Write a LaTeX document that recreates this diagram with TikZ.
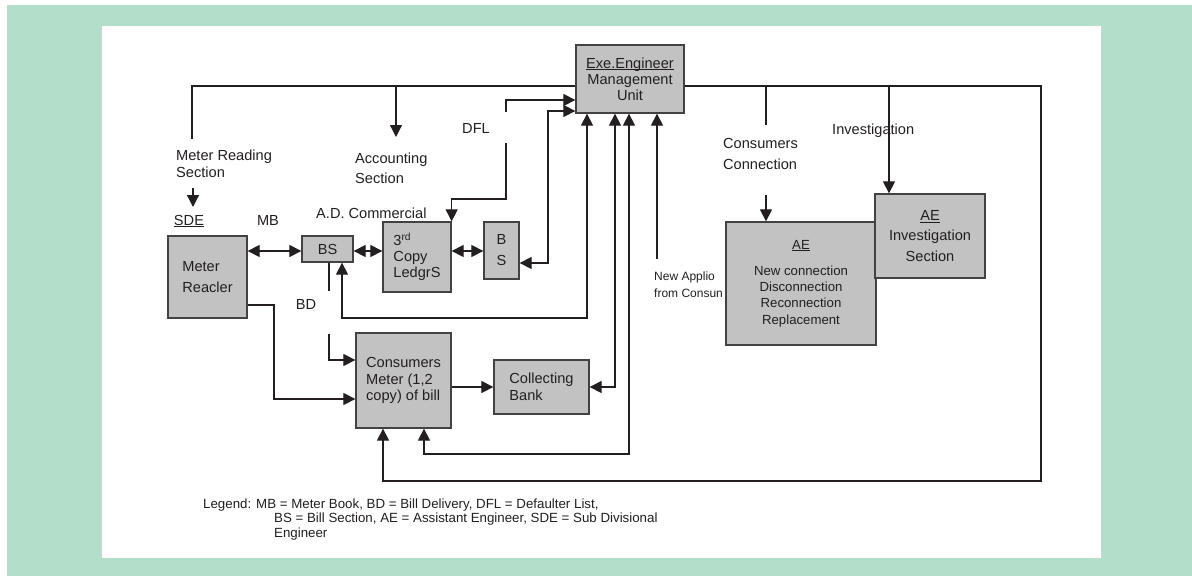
\documentclass[tikz,border=0pt]{standalone}
\usepackage{fontspec}
\setmainfont{Liberation Sans}
\usetikzlibrary{arrows.meta}
\definecolor{panelgreen}{RGB}{179,222,201}
\definecolor{boxgray}{RGB}{194,194,194}
\definecolor{ink}{RGB}{35,31,32}
% underline that ignores descenders but keeps the line height
\newcommand{\ulx}[1]{\underline{\raisebox{0pt}[\height][0pt]{#1}}}

\begin{document}
\begin{tikzpicture}[x=1pt,y=-1pt,
  >={Triangle[length=12pt,width=12pt]},
  box/.style={draw=ink!85, fill=boxgray, line width=1.3pt, inner sep=0pt,
    text=ink, font=\fontsize{14.6}{16}\selectfont},
  lbl/.style={text=ink, inner sep=0pt, font=\fontsize{14.6}{17}\selectfont},
  conn/.style={draw=ink, line width=1.2pt}]

% page, green frame and white panel
\useasboundingbox (0,0) rectangle (1192,576);
\fill[white] (0,0) rectangle (1192,576);
\fill[panelgreen] (7,5) rectangle (1192,576);
\fill[white] (102,26) rectangle (1101,558);

% boxes
\node[box, minimum width=108pt, minimum height=68pt, align=center] (exe) at (630,79)
  {\ulx{Exe.Engineer}\\Management\\Unit};
\node[box, minimum width=79pt, minimum height=82pt, align=left,
  font=\fontsize{14.6}{21}\selectfont] (meter) at (207.5,277) {Meter\\Reacler};
\node[box, minimum width=51pt, minimum height=26pt] (bs1) at (327.5,249) {BS};
\node[box, minimum width=68pt, minimum height=70pt, align=left] (ledger) at (417,257)
  {3\textsuperscript{rd}\\Copy\\LedgrS};
\node[box, minimum width=35pt, minimum height=57pt, align=center,
  font=\fontsize{14.6}{21}\selectfont] (bs2) at (501.5,250.5) {B\\S};
\node[box, minimum width=95pt, minimum height=95pt, align=left,
  font=\fontsize{14.6}{16.5}\selectfont] (cons) at (403.5,380.5)
  {Consumers\\Meter (1,2\\copy) of bill};
\node[box, minimum width=95pt, minimum height=54pt, align=left,
  font=\fontsize{14.6}{17}\selectfont] (bank) at (541.5,387) {Collecting\\Bank};
\node[box, minimum width=150pt, minimum height=123pt, align=center,
  font=\fontsize{13.2}{16.3}\selectfont] (ae) at (801,283.5)
  {\ulx{AE}\\[10pt]New connection\\Disconnection\\Reconnection\\Replacement};
\node[box, minimum width=110pt, minimum height=84pt, align=center,
  font=\fontsize{14.6}{20.5}\selectfont] (aeinv) at (930,236)
  {\ulx{AE}\\Investigation\\Section};

% free ends of connectors
\coordinate (mrTop) at (192,139);
\coordinate (accJ) at (396,86);
\coordinate (accTip) at (396,137);
\coordinate (sdeA) at (193,188);
\coordinate (sdeB) at (193,207);
\coordinate (ccJ) at (766,86);
\coordinate (ccEnd) at (766,125);
\coordinate (ccStart) at (766,195);
\coordinate (invJ) at (889,86);
\coordinate (napp) at (657,259);
\coordinate (dflA) at (506,112);
\coordinate (dflB) at (506,143);
\coordinate (bdA) at (329,291);
\coordinate (bdB) at (329,334);

% connectors
\draw[conn] (exe.west |- 0,86) -- (192,86) -- (mrTop);
\draw[conn,->] (accJ) -- (accTip);
\draw[conn,->] (sdeA) -- (sdeB);
\draw[conn,->] (exe.east |- 0,86) -- (1041,86) -- (1041,481) -- (383,481) -- (cons.south -| 383,0);
\draw[conn] (ccJ) -- (ccEnd);
\draw[conn,->] (ccStart) -- (ae.north -| ccStart);
\draw[conn,->] (invJ) -- (aeinv.north -| invJ);
\draw[conn,->] (napp) -- (exe.south -| napp);
\draw[conn,<->] (meter.east |- 0,251) -- (bs1.west |- 0,251);
\draw[conn,<->] (bs1.east |- 0,251) -- (ledger.west |- 0,251);
\draw[conn,<->] (ledger.east |- 0,251) -- (bs2.west |- 0,251);
\draw[conn,->] (dflA) -- (506,100) -- (exe.west |- 0,100);
\draw[conn,->] (dflB) -- (506,199) -- (ledger.north east |- 0,199) -- (ledger.north east);
\draw[conn,<->] (exe.west |- 0,111) -- (548,111) -- (548,263) -- (bs2.east |- 0,263);
\draw[conn,<->] (exe.south -| 587,0) -- (587,318) -- (342,318) -- (bs1.south -| 342,0);
\draw[conn,<->] (exe.south -| 615,0) -- (615,387) -- (bank.east |- 0,387);
\draw[conn,<->] (exe.south -| 629,0) -- (629,454) -- (424,454) -- (cons.south -| 424,0);
\draw[conn,->] (cons.east |- bank.west) -- (bank.west);
\draw[conn] (bs1.south -| bdA) -- (bdA);
\draw[conn,->] (bdB) -- (329,360) -- (cons.west |- 0,360);
\draw[conn,->] (meter.east |- 0,305) -- (274,305) -- (274,399) -- (cons.west |- 0,399);

% labels
\node[lbl, align=left, anchor=west] (mrlbl) at (176,163.5) {Meter Reading\\Section};
\node[lbl, align=left, anchor=west, font=\fontsize{14.6}{20}\selectfont] (acclbl) at (355,168) {Accounting\\Section};
\node[lbl] (dfllbl) at (476,128) {DFL};
\node[lbl] (sdelbl) at (189,221) {\ulx{SDE}};
\node[lbl] (mblbl) at (268,220) {MB};
\node[lbl, anchor=west] (adlbl) at (316,213) {A.D. Commercial};
\node[lbl] (bdlbl) at (306,304) {BD};
\node[lbl, align=left, anchor=west, font=\fontsize{14.6}{21}\selectfont] (cclbl) at (723,153.5) {Consumers\\Connection};
\node[lbl, anchor=west] (invlbl) at (832,131) {Investigation};
\node[lbl, align=left, anchor=west, font=\fontsize{12}{17}\selectfont] (nalbl) at (654,284.5) {New Applio\\from Consun};
\node[lbl, align=left, anchor=west, font=\fontsize{13.3}{14.5}\selectfont] (legend) at (203,519.5)
  {Legend: MB = Meter Book, BD = Bill Delivery, DFL = Defaulter List,\\
   \hspace*{71pt}BS = Bill Section, AE = Assistant Engineer, SDE = Sub Divisional\\
   \hspace*{71pt}Engineer};
\end{tikzpicture}
\end{document}
